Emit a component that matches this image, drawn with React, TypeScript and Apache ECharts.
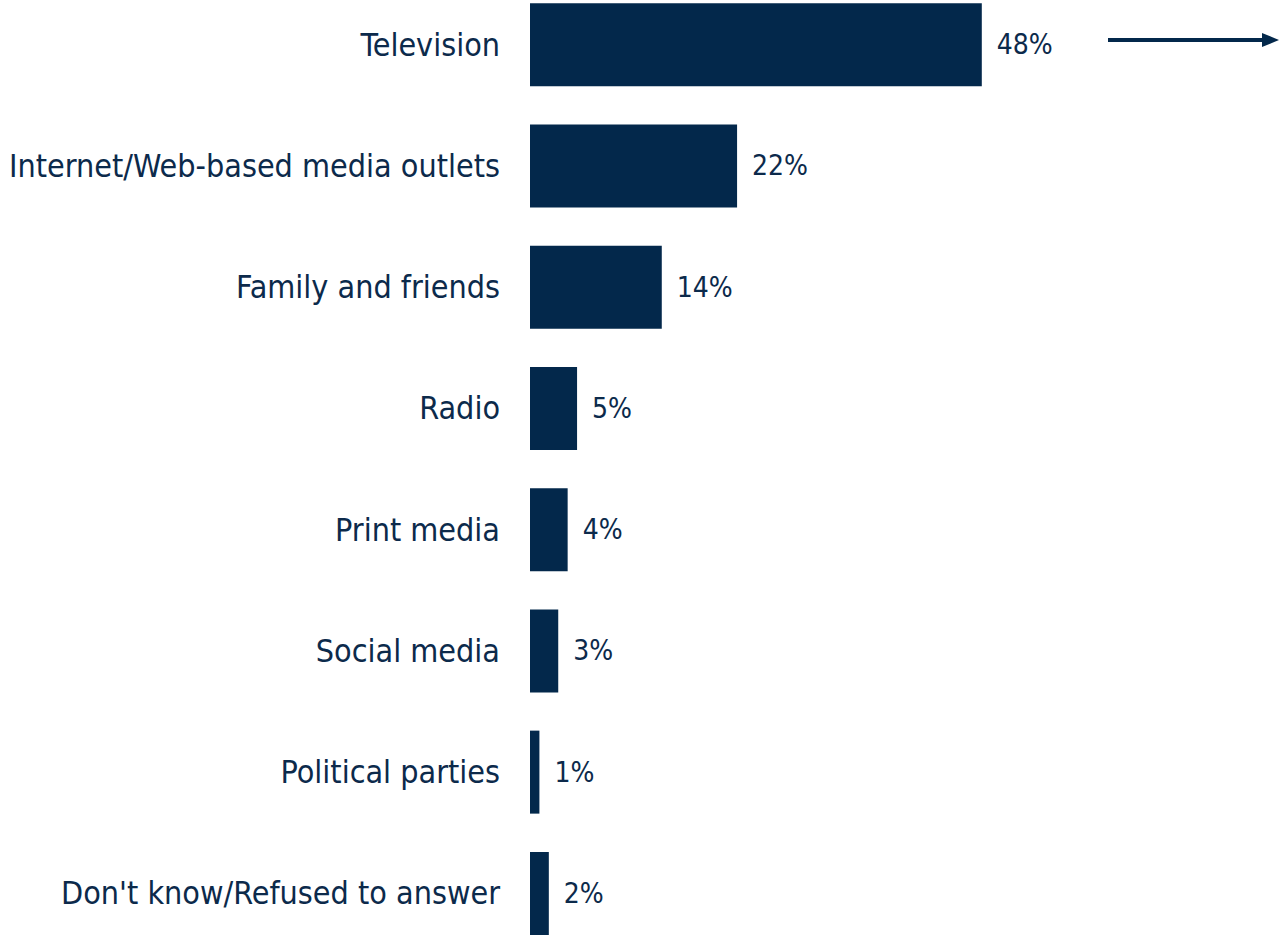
import React, { useEffect, useRef } from "react";
import * as echarts from "echarts";

const categories = [
  "Television",
  "Internet/Web-based media outlets",
  "Family and friends",
  "Radio",
  "Print media",
  "Social media",
  "Political parties",
  "Don't know/Refused to answer",
];
const values = [48, 22, 14, 5, 4, 3, 1, 2];

const BAR = "#03284b";
const TEXT = "#0c2a4b";
const FONT = "'DejaVu Sans Condensed', 'DejaVu Sans', sans-serif";

export default function App() {
  const ref = useRef<HTMLDivElement>(null);
  useEffect(() => {
    document.body.style.margin = "0";
    const chart = echarts.init(ref.current!, null, { renderer: "svg" });
    chart.setOption({
      animation: false,
      grid: { left: 530, right: 0, top: 0, bottom: 0, containLabel: false },
      xAxis: { type: "value", min: 0, max: 80, show: false },
      yAxis: {
        type: "category",
        data: categories,
        inverse: true,
        axisLine: { show: false },
        axisTick: { show: false },
        axisLabel: { fontSize: 32, color: TEXT, fontFamily: FONT, margin: 30 },
      },
      series: [
        {
          type: "bar",
          data: values,
          barWidth: 83,
          itemStyle: { color: BAR },
          label: {
            show: true,
            position: "right",
            distance: 15,
            formatter: "{c}%",
            fontSize: 28,
            color: TEXT,
            fontFamily: FONT,
          },
        },
      ],
      graphic: [
        {
          type: "line",
          shape: { x1: 1108, y1: 56, x2: 1264, y2: 56 },
          style: { stroke: BAR, lineWidth: 4 },
        },
        {
          type: "polygon",
          shape: { points: [[1262, 49], [1279, 56], [1262, 63]] },
          style: { fill: BAR },
        },
      ],
    });
    return () => chart.dispose();
  }, []);
  return (
    <div style={{ width: 1283, height: 938, overflow: "hidden" }}>
      <div ref={ref} style={{ width: 1283, height: 970, marginTop: -16 }} />
    </div>
  );
}
